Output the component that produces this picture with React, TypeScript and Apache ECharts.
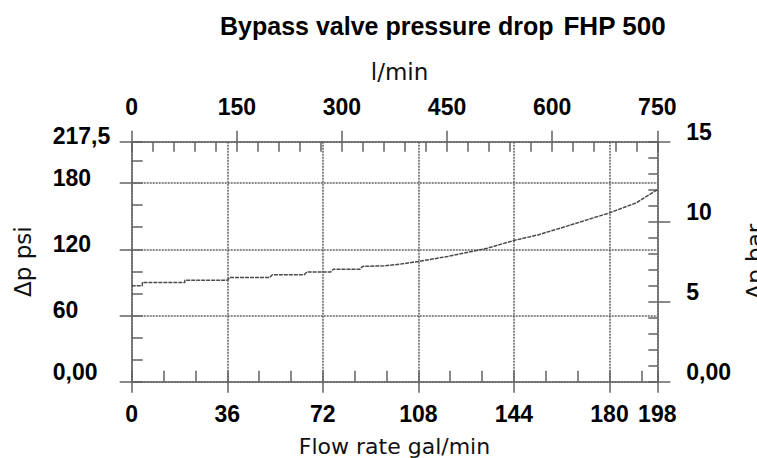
import React, { useEffect, useRef } from "react";
import * as echarts from "echarts";

// Flow rate (gal/min) and pressure drop (psi)
const flowGal = [0, 4, 4, 20, 20, 36, 37, 52, 53, 65, 66, 75, 76, 86, 87, 95, 101, 108, 119, 127, 134, 144, 153, 164, 180, 190, 198];
const dpPsi = [87, 87, 90, 90, 92, 92, 94.5, 94.5, 97, 97, 99.5, 99.5, 102, 102, 104.5, 105, 106.5, 109, 113.5, 117.5, 121, 128, 133, 141, 153, 162, 174];

// Axis ranges / tick settings
const galRange = [0, 198];
const galStep = 36;
const galMinorStep = 12;
const lminRange = [0, 750];
const lminStep = 150;
const lminMinorStep = 30;
const psiRange = [0, 217.5];
const psiStep = 60;
const psiMinorStep = 20;
const barRange = [0, 15];
const barStep = 5;
const barMinorStep = 1;

const titleMain = "Bypass valve pressure drop";
const titleModel = "FHP 500";

const fmtNum = (v: number) => {
  if (v === 0) return "0,00";
  return String(v).replace(".", ",");
};

const LINE = "#626262";
const LABEL_FONT = "'Liberation Sans', Arial, sans-serif";
const NAME_FONT = "'DejaVu Sans', sans-serif";

const axLine = { show: true, onZero: false, lineStyle: { color: LINE, width: 1.5, type: [2, 1] as any } };
const noLine = { show: false, onZero: false };
const tick = (len: number, inside: boolean) => ({
  show: true,
  inside,
  length: len,
  alignWithLabel: false,
  lineStyle: { color: LINE, width: 1.5 },
});
const labelStyle = {
  color: "#000",
  fontFamily: LABEL_FONT,
  fontWeight: "bold" as const,
  fontSize: 23,
  lineHeight: 23,
  showMinLabel: true,
  showMaxLabel: true,
};
const nameStyle = { color: "#111", fontFamily: NAME_FONT, fontSize: 23 };

export default function App() {
  const ref = useRef<HTMLDivElement>(null);
  useEffect(() => {
    if (!ref.current) return;
    const chart = echarts.init(ref.current, undefined, { renderer: "svg" });
    const data = flowGal.map((g, i) => [g, dpPsi[i]]);
    chart.setOption({
      animation: false,
      backgroundColor: "#fff",
      title: {
        left: 215,
        top: 8,
        text: `{a|${titleMain}}  {b|${titleModel}}`,
        textStyle: {
          rich: {
            a: { fontFamily: LABEL_FONT, fontWeight: "bold", fontSize: 25, color: "#000" },
            b: { fontFamily: LABEL_FONT, fontWeight: "bold", fontSize: 26, color: "#000" },
          },
        },
      },
      grid: {
        left: 131.7,
        right: 99.7,
        top: 141.7,
        bottom: 76.3,
        containLabel: false,
        outerBoundsMode: "none",
      },
      xAxis: [
        {
          type: "value",
          position: "bottom",
          min: galRange[0],
          max: galRange[1],
          interval: galStep,
          axisLine: axLine,
          axisTick: tick(11, false),
          splitLine: { show: true, lineStyle: { color: LINE, width: 1.5, type: [2, 1] } },
          axisLabel: { ...labelStyle, margin: 21, formatter: (v: number) => String(v) },
          name: "Flow rate gal/min",
          nameLocation: "middle",
          nameGap: 54,
          nameTextStyle: { ...nameStyle, fontSize: 22 },
        },
        {
          type: "value",
          position: "bottom",
          min: galRange[0],
          max: galRange[1],
          interval: galMinorStep,
          axisLine: noLine,
          axisTick: tick(11, true),
          splitLine: { show: false },
          axisLabel: { show: false },
        },
        {
          type: "value",
          position: "top",
          min: lminRange[0],
          max: lminRange[1],
          interval: lminStep,
          axisLine: axLine,
          axisTick: tick(11, false),
          splitLine: { show: false },
          axisLabel: { ...labelStyle, margin: 23 },
          name: "l/min",
          nameLocation: "middle",
          nameGap: 58,
          nameTextStyle: { ...nameStyle, padding: [0, 0, 0, 10] },
        },
        {
          type: "value",
          position: "top",
          min: lminRange[0],
          max: lminRange[1],
          interval: lminMinorStep,
          axisLine: noLine,
          axisTick: tick(10, true),
          splitLine: { show: false },
          axisLabel: { show: false },
        },
      ],
      yAxis: [
        {
          type: "value",
          position: "left",
          min: psiRange[0],
          max: psiRange[1],
          interval: psiStep,
          axisLine: axLine,
          axisTick: tick(12, false),
          splitLine: { show: true, lineStyle: { color: LINE, width: 1.5, type: [2, 1] } },
          axisLabel: {
            ...labelStyle,
            align: "left",
            verticalAlign: "bottom",
            lineHeight: 11,
            margin: 79,
            formatter: (v: number) => (v === 0 ? "{z|0,00}" : fmtNum(v)),
            rich: {
              z: {
                fontFamily: LABEL_FONT,
                fontWeight: "bold",
                fontSize: 23,
                lineHeight: 19,
                color: "#000",
              },
            },
          },
          name: "Δp psi",
          nameLocation: "middle",
          nameRotate: 90,
          nameGap: 97,
          nameTextStyle: nameStyle,
        },
        {
          type: "value",
          position: "left",
          min: psiRange[0],
          max: psiRange[1],
          interval: psiMinorStep,
          axisLine: noLine,
          axisTick: tick(11, true),
          splitLine: { show: false },
          axisLabel: { show: false },
        },
        {
          type: "value",
          position: "right",
          min: barRange[0],
          max: barRange[1],
          interval: barStep,
          axisLine: axLine,
          axisTick: tick(13, false),
          splitLine: { show: false },
          axisLabel: {
            ...labelStyle,
            align: "left",
            verticalAlign: "bottom",
            lineHeight: 19,
            margin: 29,
            formatter: (v: number) => fmtNum(v),
          },
          name: "Δp bar",
          nameLocation: "middle",
          nameRotate: 90,
          nameGap: 86,
          nameTextStyle: nameStyle,
        },
        {
          type: "value",
          position: "right",
          min: barRange[0],
          max: barRange[1],
          interval: barMinorStep,
          axisLine: noLine,
          axisTick: tick(9, true),
          splitLine: { show: false },
          axisLabel: { show: false },
        },
      ],
      series: [
        {
          type: "line",
          xAxisIndex: 0,
          yAxisIndex: 0,
          data,
          symbol: "none",
          lineStyle: { color: "#4a4a4a", width: 1.5, type: [4, 1] },
        },
      ],
    });
    return () => chart.dispose();
  }, []);
  return (
    <div
      ref={ref}
      style={{ position: "absolute", left: 0, top: 0, width: 757, height: 458 }}
    />
  );
}
